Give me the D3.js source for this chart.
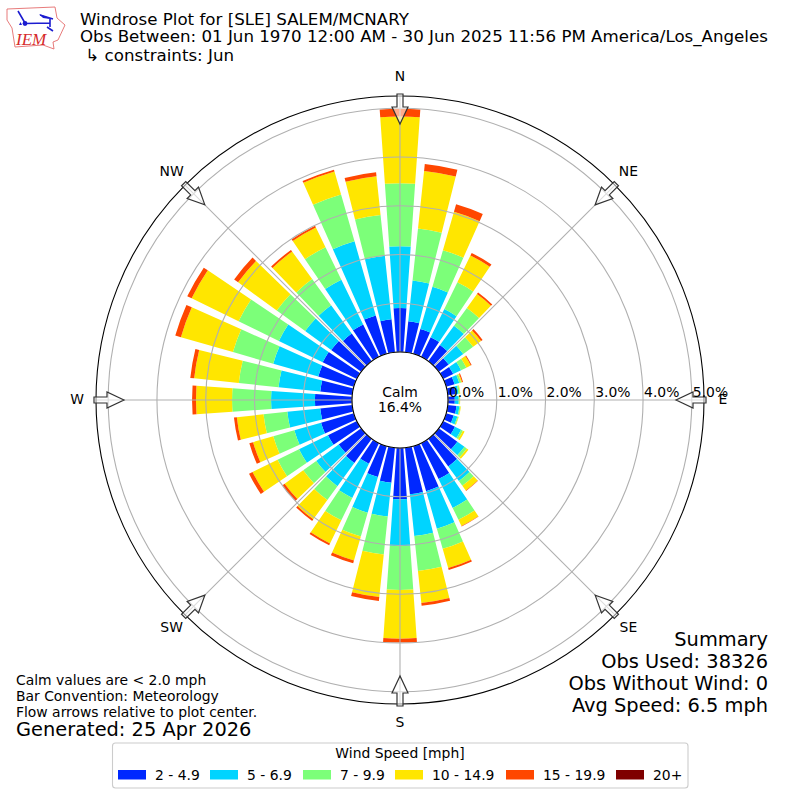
<!DOCTYPE html>
<html>
<head>
<meta charset="utf-8">
<script src="https://cdnjs.cloudflare.com/ajax/libs/d3/7.8.5/d3.min.js"></script>
<style>
body{margin:0;background:#fff;}
text{font-family:"DejaVu Sans";fill:#000;}
</style>
</head>
<body>
<div id="chart"></div>
<script>
//wind directions, one bar every 10 degrees
var directions = d3.range(0,360,10);
var speedLabels = ["2 - 4.9","5 - 6.9","7 - 9.9","10 - 14.9","15 - 19.9","20+"];
var speedColors = ["#0028ff","#00d4ff","#7cff79","#ffe600","#ff4700","#7f0000"];

//percent of obs per speed bin
var speed2to5 = [.90,.64,.53,.45,.41,.25,.23,.18,.16,.14,.18,.16,.27,.47,.70,.82,.96,.96,1.05,.72,.66,.47,.61,.57,.66,.70,.66,.76,.66,.76,.78,.76,.70,.74,.82,.68];
var speed5to7 = [1.27,.84,.90,.64,.49,.37,.18,.10,.06,.08,.06,.08,.14,.18,.37,.66,.80,.86,.96,.70,.76,.78,.59,.57,.66,.57,.68,.90,.86,.96,1.00,.66,.72,1.02,1.58,1.31];
var speed7to10 = [1.29,1.07,.78,.61,.45,.25,.12,.04,.03,.02,.02,.02,.04,.06,.12,.27,.43,.72,.90,.78,.51,.51,.35,.33,.49,.45,.49,.80,.82,.86,.92,.72,.66,.74,1.00,.84];
var speed10to15 = [1.37,1.19,.82,.61,.35,.20,.10,.02,.01,.01,.01,.01,.04,.04,.12,.14,.41,.66,1.00,.88,.51,.53,.49,.47,.57,.43,.55,.74,.92,1.11,1.07,.98,.70,.45,.49,.80];
var speed15to20 = [.16,.14,.16,.06,.04,.04,.02,.02,0,0,0,0,0,0,.01,.01,.04,.06,.08,.08,.06,.04,.04,.06,.08,.08,.06,.08,.08,.12,.10,.10,.04,.04,.04,.08];
var speed20up = directions.map(function(){ return 0; });
var allSpeeds = [speed2to5,speed5to7,speed7to10,speed10to15,speed15to20,speed20up];

var rTicks = [0,1,2,3,4,5];
var compass = ["N","NE","E","SE","S","SW","W","NW"];

var titleLines = ["Windrose Plot for [SLE] SALEM/MCNARY","Obs Between: 01 Jun 1970 12:00 AM - 30 Jun 2025 11:56 PM America/Los_Angeles"," \u21B3 constraints: Jun"];
var titleY = [25,42,61];
var noteLines = ["Calm values are < 2.0 mph","Bar Convention: Meteorology","Flow arrows relative to plot center."];
var summaryLines = ["Summary","Obs Used: 38326","Obs Without Wind: 0","Avg Speed: 6.5 mph"];

var cx = 400, cy = 400;
var svg = d3.select("#chart").append("svg").attr("width",800).attr("height",800);
var r = d3.scaleLinear().domain([0,5.25]).range([48,304]);
var barWidth = 8*Math.PI/180;

/*bars*/
var plot = svg.append("g").attr("transform","translate("+cx+","+cy+")");
var arc = d3.arc();
allSpeeds.forEach(function(series,s){
	plot.append("g").selectAll("path")
		.data(series)
		.enter()
		.append("path")
		.attr("d",function(d,i){
			var base = 0;
			for(var k=0;k<s;k++){ base += allSpeeds[k][i]; }
			var a = directions[i]*Math.PI/180;
			return arc({innerRadius:r(base),outerRadius:r(base+d),startAngle:a-barWidth/2,endAngle:a+barWidth/2});
		})
		.style("fill",speedColors[s]);
});

/*grid on top of the bars*/
plot.selectAll(".ring")
	.data(rTicks)
	.enter()
	.append("circle")
	.attr("r",function(d){ return r(d); })
	.style("fill","none")
	.style("stroke","#b0b0b0")
	.style("stroke-width",1.1);

compass.forEach(function(c,i){
	var a = i*Math.PI/4;
	plot.append("line")
		.attr("x1",r(0)*Math.sin(a)).attr("y1",-r(0)*Math.cos(a))
		.attr("x2",304*Math.sin(a)).attr("y2",-304*Math.cos(a))
		.style("stroke","#b0b0b0")
		.style("stroke-width",1.1);
});

plot.append("circle").attr("r",304).style("fill","none").style("stroke","#000").style("stroke-width",1.1);
plot.append("circle").attr("r",r(0)).style("fill","#fff").style("stroke","#000").style("stroke-width",1.1);

/*flow arrows*/
compass.forEach(function(c,i){
	plot.append("path")
		.attr("transform","rotate("+(i*45)+")")
		.attr("d","M0,-276L8,-293L3,-293L3,-306L-3,-306L-3,-293L-8,-293Z")
		.style("fill","#fff")
		.style("fill-opacity",0.55)
		.style("stroke","#333")
		.style("stroke-width",1.2);
});

/*labels*/
rTicks.forEach(function(d){
	plot.append("text")
		.text(d.toFixed(1)+"%")
		.attr("x",r(d)+1)
		.attr("y",-3)
		.style("font-size","13.9px");
});
compass.forEach(function(c,i){
	var a = i*Math.PI/4;
	plot.append("text")
		.text(c)
		.attr("x",323*Math.sin(a))
		.attr("y",-323*Math.cos(a)+4)
		.attr("text-anchor","middle")
		.style("font-size","13.9px");
});
plot.append("text").text("Calm").attr("y",-3).attr("text-anchor","middle").style("font-size","13.9px");
plot.append("text").text("16.4%").attr("y",12).attr("text-anchor","middle").style("font-size","13.9px");

/*header*/
titleLines.forEach(function(t,i){
	svg.append("text")
		.text(t)
		.attr("x",80)
		.attr("y",titleY[i])
		.style("white-space","pre")
		.style("font-size","16.66px");
});

/*notes and summary*/
noteLines.forEach(function(t,i){
	svg.append("text").text(t).attr("x",16).attr("y",685+i*16).style("font-size","13.9px");
});
svg.append("text").text("Generated: 25 Apr 2026").attr("x",16).attr("y",736).style("font-size","19.4px");
summaryLines.forEach(function(t,i){
	svg.append("text")
		.text(t)
		.attr("x",768)
		.attr("y",646+i*22)
		.attr("text-anchor","end")
		.style("font-size","19.4px");
});

/*legend*/
var swatchX = [118,210,303,395,506,616];
var legend = svg.append("g");
legend.append("rect")
	.attr("x",112.5).attr("y",743).attr("width",575.5).attr("height",45).attr("rx",3)
	.style("fill","#fff").style("stroke","#ccc").style("stroke-width",1.1);
legend.append("text").text("Wind Speed [mph]").attr("x",400).attr("y",758).attr("text-anchor","middle").style("font-size","13.9px");
speedLabels.forEach(function(t,i){
	legend.append("rect").attr("x",swatchX[i]).attr("y",770).attr("width",28).attr("height",9.5).style("fill",speedColors[i]);
	legend.append("text").text(t).attr("x",swatchX[i]+37).attr("y",780).style("font-size","13.9px");
});

/*IEM logo*/
var logo = svg.append("g");
logo.append("path")
	.attr("d","M7,9L55,7L57,18L65,25L58,40L53,42L54,49L43,45L15,47L12,28L7,20Z")
	.style("fill","#fff").style("stroke","#e46c6c").style("stroke-width",0.9);
logo.append("path")
	.attr("d","M25,23.5L50,23M18,11L25,23M50,18L50,27M40,15L53,19M47,27L53,31")
	.style("fill","none").style("stroke","#1c1cd0").style("stroke-width",1.6);
logo.append("path").attr("d","M39,14L47,17L50,19L43,18Z").style("fill","#1c1cd0");
logo.append("circle").attr("cx",25).attr("cy",23.5).attr("r",2.4).style("fill","#1c1cd0");
logo.append("path").attr("d","M19,25L22,25L20.5,22Z").style("fill","#1c1cd0");
logo.append("text").text("IEM").attr("x",16).attr("y",44.5)
	.style("font-family","Liberation Serif").style("font-style","italic").style("font-size","17px").style("fill","#d62a2a");
</script>
</body>
</html>
